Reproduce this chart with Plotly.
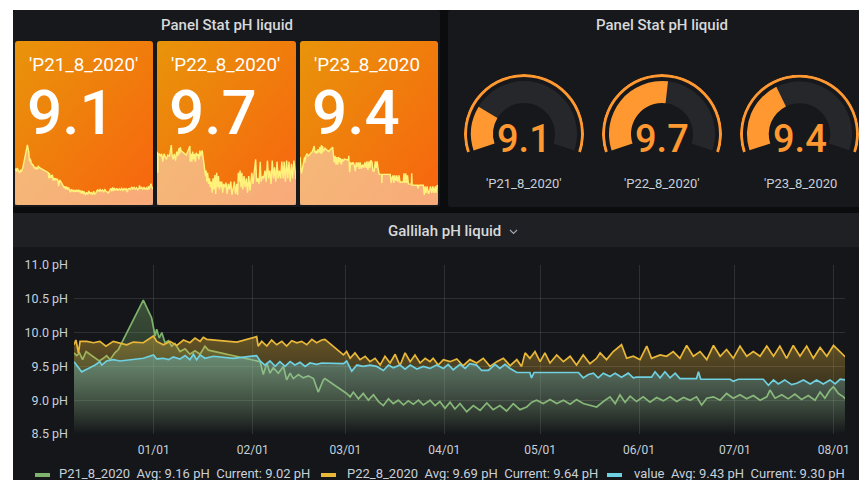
import base64
import pandas as pd
import plotly.graph_objects as go

W, H = 859, 480
T0 = pd.Timestamp("2019-12-07")
X_END = pd.Timestamp("2020-08-04 12:00")

# ---------------- data (day offset from T0, pH) ----------------
p21 = [(0.0, 9.70), (0.8, 9.66), (1.7, 9.70), (2.7, 9.60), (3.8, 9.72), (5.0, 9.68), (6.6, 9.63),
       (7.9, 9.58), (9.2, 9.62), (10.2, 9.66), (11.3, 9.60), (12.8, 9.70), (13.9, 9.75), (21.7, 10.48),
       (24.3, 10.22), (25.4, 9.95), (25.9, 10.05), (26.7, 9.92), (27.5, 10.00), (28.5, 9.85), (29.6, 9.88),
       (30.6, 9.80), (31.6, 9.84), (33.2, 9.72), (34.8, 9.76), (36.3, 9.68), (37.9, 9.73), (39.5, 9.68),
       (41.0, 9.80), (42.1, 9.74), (58.3, 9.57), (59.3, 9.38), (60.4, 9.55), (61.4, 9.40), (62.4, 9.48),
       (64.0, 9.40), (65.6, 9.50), (66.6, 9.30), (67.7, 9.40), (68.7, 9.32), (70.3, 9.38), (71.8, 9.33),
       (73.4, 9.36), (75.0, 9.32), (76.5, 9.12), (78.1, 9.30), (78.6, 9.32), (85.4, 9.10), (86.5, 9.05),
       (87.5, 9.12), (89.1, 9.02), (90.6, 9.10), (92.2, 9.00), (93.8, 9.08), (95.4, 8.98), (96.9, 8.92),
       (98.5, 9.02), (100.0, 8.95), (101.6, 9.00), (103.2, 8.93), (104.7, 8.99), (106.3, 8.94), (107.9, 9.00),
       (109.4, 8.93), (111.0, 8.98), (111.5, 9.00), (113.1, 8.92), (114.6, 8.98), (116.2, 8.88), (117.8, 8.97),
       (119.3, 8.87), (120.9, 8.95), (123.0, 8.83), (125.1, 8.92), (127.2, 8.85), (129.3, 8.96), (131.3, 8.86),
       (133.4, 8.92), (135.5, 8.84), (137.6, 8.95), (139.7, 8.86), (141.8, 8.90), (143.4, 8.97), (144.9, 9.00),
       (147.0, 8.95), (149.1, 9.01), (151.2, 8.95), (153.3, 9.00), (155.4, 8.94), (157.4, 9.01), (159.5, 8.95),
       (161.6, 8.92), (163.7, 8.90), (165.8, 8.98), (167.9, 9.05), (169.5, 8.95), (171.0, 9.08), (172.6, 8.97),
       (174.2, 9.06), (176.2, 8.98), (178.3, 9.05), (180.4, 8.97), (182.5, 9.04), (184.6, 8.99), (186.7, 9.05),
       (188.8, 8.98), (190.9, 9.04), (193.0, 9.00), (195.0, 9.05), (196.6, 8.93), (198.2, 9.03), (200.3, 9.05),
       (202.4, 9.00), (204.4, 9.10), (206.5, 9.03), (208.6, 9.08), (210.7, 9.02), (212.8, 9.07), (214.9, 9.00),
       (217.0, 9.05), (218.0, 9.15), (219.6, 9.03), (221.7, 9.08), (223.7, 9.02), (225.8, 9.09), (227.9, 9.01),
       (230.0, 9.07), (232.1, 9.00), (233.7, 9.12), (235.2, 9.03), (236.8, 9.15), (237.9, 9.20), (239.4, 9.10),
       (241.0, 9.05), (241.6, 9.02)]

p22 = [(0.0, 9.82), (0.6, 9.89), (1.4, 9.70), (1.9, 9.87), (4.0, 9.87), (6.1, 9.85), (8.1, 9.87),
       (10.0, 9.80), (12.3, 9.87), (14.4, 9.84), (16.5, 9.82), (18.6, 9.86), (21.7, 9.85), (24.9, 9.95),
       (25.9, 9.87), (28.0, 9.82), (30.1, 9.87), (32.2, 9.81), (34.3, 9.89), (36.3, 9.85), (37.9, 9.92),
       (39.5, 9.87), (40.5, 9.93), (41.6, 9.90), (51.0, 9.86), (57.2, 9.94), (57.7, 9.80), (58.8, 9.87),
       (60.4, 9.80), (61.9, 9.89), (63.5, 9.82), (65.1, 9.87), (66.6, 9.80), (68.2, 9.88), (69.8, 9.85),
       (71.3, 9.87), (72.9, 9.82), (74.5, 9.90), (76.0, 9.85), (77.6, 9.89), (78.6, 9.90), (84.4, 9.67),
       (85.4, 9.72), (86.5, 9.62), (88.0, 9.70), (89.6, 9.60), (91.2, 9.65), (92.7, 9.57), (94.3, 9.62),
       (95.9, 9.52), (97.4, 9.65), (99.0, 9.55), (100.6, 9.68), (102.1, 9.51), (103.7, 9.70), (105.3, 9.57),
       (106.8, 9.67), (108.4, 9.55), (110.0, 9.62), (111.5, 9.57), (112.5, 9.62), (114.1, 9.52), (115.7, 9.60),
       (117.8, 9.57), (119.9, 9.61), (121.9, 9.51), (124.0, 9.60), (126.1, 9.55), (128.2, 9.62), (130.3, 9.50),
       (132.4, 9.57), (134.5, 9.62), (136.6, 9.51), (138.7, 9.60), (140.2, 9.50), (141.3, 9.70), (142.8, 9.62),
       (144.4, 9.72), (146.0, 9.57), (147.5, 9.70), (149.1, 9.55), (151.2, 9.67), (153.3, 9.57), (155.4, 9.65),
       (157.4, 9.52), (159.5, 9.67), (161.6, 9.54), (163.7, 9.62), (164.8, 9.70), (166.8, 9.60), (168.9, 9.72),
       (171.5, 9.82), (173.1, 9.62), (175.2, 9.65), (177.3, 9.60), (179.4, 9.80), (180.9, 9.62), (183.6, 9.67),
       (185.6, 9.65), (187.7, 9.72), (189.8, 9.62), (191.9, 9.81), (194.0, 9.65), (196.1, 9.72), (198.2, 9.60),
       (200.3, 9.81), (202.4, 9.65), (204.4, 9.75), (206.5, 9.62), (208.6, 9.80), (210.7, 9.65), (212.8, 9.72),
       (214.9, 9.65), (217.0, 9.80), (219.1, 9.65), (221.1, 9.80), (223.2, 9.62), (225.3, 9.81), (227.4, 9.65),
       (229.5, 9.80), (231.6, 9.62), (233.7, 9.78), (235.8, 9.65), (237.9, 9.81), (240.0, 9.72), (241.6, 9.64)]

value = [(0.0, 9.57), (0.6, 9.53), (2.4, 9.42), (4.5, 9.47), (6.6, 9.52), (8.1, 9.57), (8.7, 9.52),
         (10.2, 9.58), (12.3, 9.60), (14.4, 9.58), (16.5, 9.59), (21.7, 9.62), (24.9, 9.67), (25.9, 9.61),
         (28.0, 9.62), (29.6, 9.60), (31.1, 9.64), (33.2, 9.61), (34.8, 9.66), (36.3, 9.60), (37.4, 9.68),
         (38.4, 9.60), (39.5, 9.67), (41.0, 9.62), (43.7, 9.65), (49.9, 9.62), (57.2, 9.66), (58.3, 9.58),
         (59.8, 9.52), (61.4, 9.58), (63.0, 9.50), (64.5, 9.57), (66.1, 9.50), (67.7, 9.57), (69.2, 9.52),
         (70.8, 9.56), (72.4, 9.50), (73.9, 9.55), (76.0, 9.53), (77.6, 9.55), (84.4, 9.54), (85.4, 9.58),
         (87.0, 9.43), (88.6, 9.52), (90.6, 9.50), (92.7, 9.52), (94.8, 9.50), (96.9, 9.44), (98.5, 9.52),
         (100.0, 9.48), (102.1, 9.52), (103.7, 9.46), (105.3, 9.52), (107.4, 9.46), (109.4, 9.50), (111.5, 9.47),
         (113.6, 9.52), (115.7, 9.47), (117.2, 9.53), (118.8, 9.45), (120.9, 9.53), (122.5, 9.47), (124.0, 9.54),
         (126.1, 9.52), (127.7, 9.44), (129.8, 9.44), (131.9, 9.53), (133.4, 9.47), (135.0, 9.53), (136.6, 9.47),
         (138.7, 9.41), (142.8, 9.41), (143.3, 9.33), (144.1, 9.41), (158.0, 9.41), (159.5, 9.33), (161.1, 9.38),
         (162.7, 9.40), (164.2, 9.33), (165.8, 9.40), (167.9, 9.35), (169.5, 9.40), (171.5, 9.34), (173.6, 9.40),
         (175.2, 9.33), (176.2, 9.34), (180.9, 9.34), (182.0, 9.42), (183.6, 9.33), (185.1, 9.42), (186.7, 9.33),
         (188.3, 9.40), (189.8, 9.32), (195.0, 9.32), (195.6, 9.42), (196.3, 9.31), (205.5, 9.31), (206.5, 9.28),
         (208.1, 9.31), (215.9, 9.31), (217.5, 9.22), (219.1, 9.30), (220.6, 9.24), (222.6, 9.30), (224.8, 9.23),
         (226.4, 9.25), (228.5, 9.30), (230.6, 9.24), (232.6, 9.30), (234.7, 9.24), (236.8, 9.30), (238.4, 9.24),
         (240.0, 9.31), (241.6, 9.30)]

series_names = ["P21_8_2020", "P22_8_2020", "value"]
series_avg = [9.16, 9.69, 9.43]
series_current = [9.02, 9.64, 9.30]
y_ticks = [8.5, 9.0, 9.5, 10.0, 10.5, 11.0]
stat_labels = ["'P21_8_2020'", "'P22_8_2020'", "'P23_8_2020"]
stat_values = [9.1, 9.7, 9.4]
gauge_labels = ["'P21_8_2020'", "'P22_8_2020'", "'P23_8_2020"]
gauge_values = [9.1, 9.7, 9.4]
gauge_min, gauge_max = 8.65, 10.63

# ---------------- styles / layout constants ----------------
COLORS = ["#7EB26D", "#EAB839", "#6ED0E0"]
ORANGE = "#FF9830"
FONT = "Roboto, 'Open Sans', sans-serif"
TXT = "#c7d0d9"


def fx(px):
    return px / W


def fy(py):
    return 1 - py / H


def rgba(hexc, a):
    h = hexc.lstrip("#")
    r, g, b = int(h[0:2], 16), int(h[2:4], 16), int(h[4:6], 16)
    return f"rgba({r},{g},{b},{a})"


tiles = [(15, 153), (157, 296), (300, 438)]
TILE_TOP, TILE_BOT = 41, 205
gauge_cx = [524, 662, 800]
GAUGE_CY = 134

# background chrome as an svg image
tile_rects = "".join(
    f'<rect x="{a}" y="{TILE_TOP}" width="{b - a}" height="{TILE_BOT - TILE_TOP}" rx="3" fill="url(#g)"/>'
    for a, b in tiles)
svg = (
    f'<svg xmlns="http://www.w3.org/2000/svg" width="{W}" height="{H}" viewBox="0 0 {W} {H}" preserveAspectRatio="none">'
    '<defs><linearGradient id="g" x1="0" y1="0" x2="1" y2="1">'
    '<stop offset="0" stop-color="#e8940a"/><stop offset="1" stop-color="#f8640f"/></linearGradient></defs>'
    f'<rect x="0" y="0" width="{W}" height="{H}" fill="#0b0c0e"/>'
    f'<rect x="0" y="0" width="{W}" height="10" fill="#ffffff"/>'
    f'<rect x="0" y="0" width="13" height="{H}" fill="#ffffff"/>'
    '<rect x="13" y="10" width="427" height="197" rx="3" fill="#17181c"/>'
    '<rect x="448" y="10" width="420" height="197" rx="3" fill="#17181c"/>'
    + tile_rects +
    '<rect x="13" y="213" width="860" height="34" fill="#1f2024"/>'
    '<rect x="13" y="247" width="860" height="240" fill="#141619"/>'
    '</svg>'
)
bg_src = "data:image/svg+xml;base64," + base64.b64encode(svg.encode()).decode()

fig = go.Figure()

all_series = [p21, p22, value]

# main time series
for name, pairs, c in zip(series_names, all_series, COLORS):
    d, v = zip(*pairs)
    x = T0 + pd.to_timedelta(list(d), unit="D")
    fig.add_trace(go.Scatter(
        x=x, y=list(v), mode="lines", name=name,
        line=dict(color=c, width=1.7),
        fill="tozeroy",
        fillgradient=dict(type="vertical", colorscale=[[0, rgba(c, 0.0)], [1, rgba(c, 0.38)]],
                          start=8.5, stop=max(v)),
        xaxis="x", yaxis="y", showlegend=False, hoverinfo="skip"))

# sparklines in stat tiles
for i, pairs in enumerate(all_series):
    d, v = zip(*pairs)
    x = T0 + pd.to_timedelta(list(d), unit="D")
    fig.add_trace(go.Scatter(
        x=x, y=list(v), mode="lines",
        line=dict(color="#fff27a", width=1.4),
        fill="tozeroy", fillcolor="rgba(250,228,210,0.55)",
        xaxis=f"x{i + 2}", yaxis=f"y{i + 2}", showlegend=False, hoverinfo="skip"))

# gauges
for i, gv in enumerate(gauge_values):
    sub = "polar" if i == 0 else f"polar{i + 1}"
    frac = (gv - gauge_min) / (gauge_max - gauge_min)
    fig.add_trace(go.Barpolar(r=[3], base=[57], theta=[90], width=[216], marker=dict(color=ORANGE, line=dict(width=0)),
                              subplot=sub, showlegend=False, hoverinfo="skip"))
    fig.add_trace(go.Barpolar(r=[22], base=[31], theta=[90], width=[216], marker=dict(color="#26272b", line=dict(width=0)),
                              subplot=sub, showlegend=False, hoverinfo="skip"))
    fig.add_trace(go.Barpolar(r=[22], base=[31], theta=[198 - frac * 108], width=[frac * 216],
                              marker=dict(color=ORANGE, line=dict(width=0)),
                              subplot=sub, showlegend=False, hoverinfo="skip"))

layout = dict(
    template="none",
    width=W, height=H, autosize=False, showlegend=False,
    margin=dict(l=0, r=0, t=0, b=0, pad=0, autoexpand=False),
    paper_bgcolor="#0b0c0e", plot_bgcolor="rgba(0,0,0,0)",
    font=dict(family=FONT, color=TXT, size=12),
    images=[dict(source=bg_src, xref="paper", yref="paper", x=0, y=1, sizex=1, sizey=1,
                 xanchor="left", yanchor="top", sizing="stretch", layer="below")],
    xaxis=dict(domain=[fx(74), fx(845)], type="date", range=[T0, X_END],
               tickformat="%m/%d", dtick="M1", tick0="2020-01-01",
               showgrid=True, gridcolor="rgba(255,255,255,0.11)", gridwidth=1,
               zeroline=False, showline=False, ticks="", ticklabelstandoff=7, automargin=False,
               tickfont=dict(size=12, color=TXT), anchor="y"),
    yaxis=dict(domain=[fy(434), fy(265)], range=[8.5, 11.0], tickmode="array", tickvals=y_ticks,
               ticktext=[f"{t:.1f} pH" for t in y_ticks],
               showgrid=True, gridcolor="rgba(255,255,255,0.11)", gridwidth=1,
               zeroline=False, showline=False, ticks="", ticklabelstandoff=5, automargin=False,
               tickfont=dict(size=12.5, color=TXT), anchor="x"),
)

for i, pairs in enumerate(all_series):
    d, v = zip(*pairs)
    lo, hi = min(v), max(v)
    span = hi - lo
    a, b = tiles[i]
    layout[f"xaxis{i + 2}"] = dict(domain=[fx(a), fx(b)], type="date",
                                   range=[T0 + pd.Timedelta(days=min(d)), T0 + pd.Timedelta(days=max(d))],
                                   visible=False, automargin=False, anchor=f"y{i + 2}")
    layout[f"yaxis{i + 2}"] = dict(domain=[fy(TILE_BOT), fy(140)], range=[lo - span * 0.2, hi + span * 0.1],
                                   visible=False, automargin=False, anchor=f"x{i + 2}")

for i, cx in enumerate(gauge_cx):
    key = "polar" if i == 0 else f"polar{i + 1}"
    x0, x1 = max(fx(cx - 60), 0), min(fx(cx + 60), 1)
    layout[key] = dict(domain=dict(x=[x0, x1], y=[fy(GAUGE_CY + 60), fy(GAUGE_CY - 60)]),
                       bgcolor="rgba(0,0,0,0)", bargap=0, hole=0,
                       radialaxis=dict(range=[0, 60], visible=False),
                       angularaxis=dict(visible=False, rotation=0, direction="counterclockwise"))

fig.update_layout(**layout)

ann = []
# panel titles
for cx, cy, t in [(227, 25, "Panel Stat pH liquid"), (662, 25, "Panel Stat pH liquid"),
                  (445, 231, "Gallilah pH liquid")]:
    ann.append(dict(x=fx(cx), y=fy(cy), xref="paper", yref="paper", text=t, showarrow=False,
                    xanchor="center", yanchor="middle",
                    font=dict(size=15, color="#d8d9da", family=FONT, weight=500)))

# stat tiles text
for (a, b), lab, sv in zip(tiles, stat_labels, stat_values):
    ann.append(dict(x=fx(a + 12), y=fy(65), xref="paper", yref="paper", text=lab, showarrow=False,
                    xanchor="left", yanchor="middle", font=dict(size=18.8, color="#ffffff", family=FONT)))
    ann.append(dict(x=fx(a + 10), y=fy(112), xref="paper", yref="paper", text=f"{sv:.1f}", showarrow=False,
                    xanchor="left", yanchor="middle",
                    font=dict(size=62, color="#ffffff", family=FONT, weight=500)))

# gauge texts
for cx, lab, gv in zip(gauge_cx, gauge_labels, gauge_values):
    ann.append(dict(x=fx(cx), y=fy(139), xref="paper", yref="paper", text=f"{gv:.1f}", showarrow=False,
                    xanchor="center", yanchor="middle",
                    font=dict(size=38, color=ORANGE, family=FONT, weight=500)))
    ann.append(dict(x=fx(cx), y=fy(183), xref="paper", yref="paper", text=lab, showarrow=False,
                    xanchor="center", yanchor="middle", font=dict(size=13, color=TXT, family=FONT)))

# legend
legend_text_x = [57, 345, 632]
legend_mark_x = [35, 321, 607]
shapes = []
NB = "\u00a0"
for name, avg, cur, c, tx, mx in zip(series_names, series_avg, series_current, COLORS, legend_text_x, legend_mark_x):
    ann.append(dict(x=fx(tx), y=fy(473.5), xref="paper", yref="paper",
                    text=f"{name}{NB}{NB}Avg:{NB}{avg:.2f}{NB}pH{NB}{NB}Current:{NB}{cur:.2f}{NB}pH",
                    showarrow=False, xanchor="left", yanchor="middle",
                    font=dict(size=13, color=TXT, family=FONT)))
    shapes.append(dict(type="rect", xref="paper", yref="paper", x0=fx(mx), x1=fx(mx + 15),
                       y0=fy(477), y1=fy(473), fillcolor=c, line=dict(width=0), layer="above"))

# chevron next to the bottom panel title
shapes.append(dict(type="path", xref="paper", yref="paper",
                   path=f"M {fx(510)} {fy(230)} L {fx(513.5)} {fy(233.5)} L {fx(517)} {fy(230)}",
                   line=dict(color="#9fa7b3", width=1.2), layer="above"))

fig.update_layout(annotations=ann, shapes=shapes)

fig.write_html("out.html", config={"displayModeBar": False},
               post_script="document.body.style.margin='0';document.body.style.overflow='hidden';")
